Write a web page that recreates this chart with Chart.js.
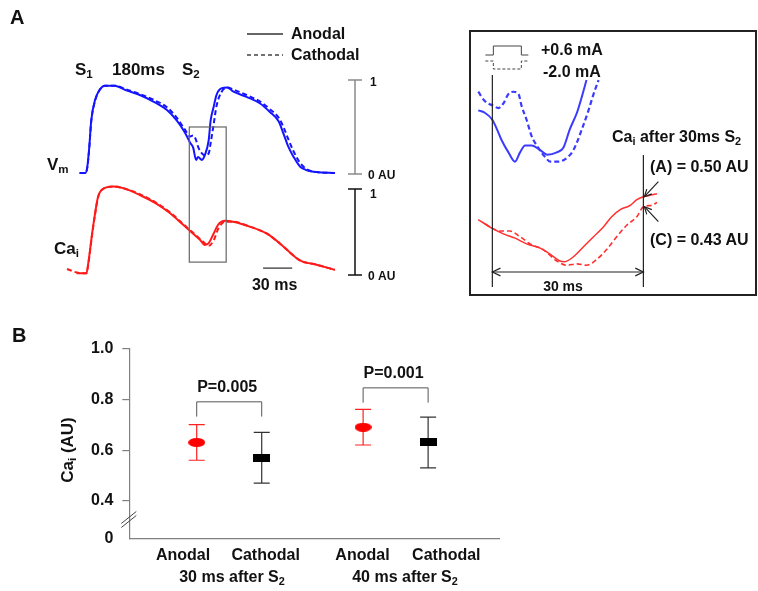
<!DOCTYPE html>
<html>
<head>
<meta charset="utf-8">
<script src="https://cdn.jsdelivr.net/npm/chart.js@4.4.1/dist/chart.umd.min.js"></script>
<style>
  body { margin: 0; background: #fff; }
  #page { position: relative; width: 758px; height: 591px; overflow: hidden; background: #fff; }
  canvas { position: absolute; }
  #insetBox { position: absolute; left: 469px; top: 30px; width: 284px; height: 262px; border: 2px solid #222; }
  #insetBox canvas { left: 0; top: 0; }
  .t { position: absolute; font: bold 16px Arial, "Liberation Sans", sans-serif; color: #111;
       line-height: 1; white-space: nowrap; transform: translateY(-50%); z-index: 2; }
  .c { transform: translate(-50%, -50%); }
  .t sub { font-size: 0.68em; vertical-align: -0.32em; line-height: 0; }
  svg { position: absolute; }
</style>
</head>
<body>
<div id="page">
  <canvas id="traces" width="440" height="305" style="left:0;top:0"></canvas>
  <div id="insetBox"><canvas id="inset" width="284" height="262"></canvas></div>
  <canvas id="summary" width="520" height="271" style="left:0;top:320px"></canvas>

  <!-- panel A labels -->
  <div class="t" style="left:10px;top:17px;font-size:20px">A</div>
  <svg width="40" height="30" style="left:245px;top:28px">
    <line x1="2" y1="6" x2="38" y2="6" stroke="#333" stroke-width="1.4"/>
    <line x1="2" y1="27" x2="38" y2="27" stroke="#444" stroke-width="1.4" stroke-dasharray="4 3"/>
  </svg>
  <div class="t" style="left:291px;top:34px">Anodal</div>
  <div class="t" style="left:291px;top:55px">Cathodal</div>
  <div class="t" style="left:75px;top:69px;font-size:17px">S<sub>1</sub></div>
  <div class="t" style="left:112px;top:69px;font-size:17px">180ms</div>
  <div class="t" style="left:182px;top:69px;font-size:17px">S<sub>2</sub></div>
  <div class="t" style="left:47px;top:164px;font-size:17px">V<sub>m</sub></div>
  <div class="t" style="left:54px;top:248px;font-size:17px">Ca<sub>i</sub></div>

  <!-- inset labels -->
  <div class="t" style="left:541px;top:50px">+0.6 mA</div>
  <div class="t" style="left:543px;top:72px">-2.0 mA</div>
  <div class="t" style="left:612px;top:137px">Ca<sub>i</sub> after 30ms S<sub>2</sub></div>
  <div class="t" style="left:650px;top:167px">(A) = 0.50 AU</div>
  <div class="t" style="left:650px;top:240px">(C) = 0.43 AU</div>
  <div class="t c" style="left:563px;top:286px;font-size:14px">30 ms</div>

  <!-- panel B labels -->
  <div class="t" style="left:12px;top:335px;font-size:20px">B</div>
  <div class="t" style="left:67px;top:450px;font-size:17px;transform:translate(-50%,-50%) rotate(-90deg)">Ca<sub>i</sub> (AU)</div>
  <div class="t c" style="left:232px;top:577px">30 ms after S<sub>2</sub></div>
  <div class="t c" style="left:405px;top:577px">40 ms after S<sub>2</sub></div>
</div>

<script>
// ---- main traces (time in ms, amplitude in AU) ----
const vmTime = [14, 20, 22, 24, 26, 30, 35, 40, 50, 62, 76, 90, 104, 114, 122, 128, 131, 134, 136, 140,
                143, 147, 149, 152, 155, 160, 166, 172, 186, 200, 210, 219, 224, 229, 234, 241, 248, 258, 277];
const vmAnodal = [0.01, 0.01, 0.08, 0.29, 0.57, 0.79, 0.90, 0.94, 0.94, 0.89, 0.84, 0.77, 0.68, 0.57, 0.45,
                  0.33, 0.28, 0.15, 0.18, 0.15, 0.20, 0.36, 0.57, 0.71, 0.84, 0.91, 0.92, 0.88, 0.82, 0.75,
                  0.66, 0.56, 0.43, 0.29, 0.19, 0.08, 0.04, 0.02, 0.01];
const vmCathodal = [0.01, 0.01, 0.07, 0.28, 0.56, 0.78, 0.90, 0.94, 0.94, 0.90, 0.85, 0.79, 0.71, 0.60, 0.48,
                    0.40, 0.41, 0.36, 0.29, 0.22, 0.20, 0.22, 0.33, 0.52, 0.72, 0.87, 0.92, 0.90, 0.84, 0.77,
                    0.69, 0.60, 0.50, 0.37, 0.25, 0.12, 0.05, 0.02, 0.01];

const caTime = [1, 11, 21, 23, 27, 30, 33, 38, 49, 59, 76, 93, 107, 121, 131, 138, 143, 147, 152, 157,
                164, 172, 190, 207, 220, 231, 241, 258, 277];
const caAnodal = [null, 0.02, 0.02, 0.14, 0.49, 0.72, 0.91, 1.00, 1.03, 1.01, 0.93, 0.83, 0.72, 0.58, 0.48,
                  0.41, 0.35, 0.37, 0.48, 0.59, 0.63, 0.62, 0.56, 0.48, 0.37, 0.26, 0.17, 0.12, 0.06];
const caCathodal = [0.07, 0.03, 0.02, 0.13, 0.48, 0.71, 0.90, 1.00, 1.03, 1.01, 0.94, 0.84, 0.73, 0.59, 0.49,
                    0.42, 0.37, 0.34, 0.40, 0.54, 0.62, 0.62, 0.56, 0.48, 0.37, 0.26, 0.17, 0.12, 0.06];

// window around S2 that is enlarged in the inset
const windowStart = 127;
const windowEnd = 165;

// ---- inset (time after S2 in ms) ----
const insetVmTimeA = [-2.8, -1.5, 0, 0.9, 1.9, 3.2, 4.5, 5.5, 6.5, 7.8, 9.5, 10.9, 12.8, 14.1, 15.4, 16.8, 17.8, 18.7];
const insetVmAnodal = [0.37, 0.36, 0.33, 0.29, 0.24, 0.19, 0.15, 0.19, 0.22, 0.22, 0.20, 0.18, 0.19, 0.21, 0.29, 0.36, 0.43, 0.50];
const insetVmTimeC = [-2.8, -1.5, 0.2, 1.2, 2.2, 3.2, 4.2, 5.2, 5.8, 6.8, 7.8, 9.1, 10.5, 11.5, 12.8, 14.4, 16.1, 17.8, 19.1, 20.1, 21.1];
const insetVmCathodal = [0.45, 0.41, 0.39, 0.38, 0.40, 0.44, 0.45, 0.44, 0.39, 0.33, 0.26, 0.21, 0.17, 0.15, 0.15, 0.16, 0.20, 0.29, 0.37, 0.44, 0.50];

const insetCaTimeA = [-2.8, -0.1, 2.2, 4.5, 6.8, 9.5, 11.8, 13.4, 14.4, 16.1, 18.1, 20.1, 22.1, 23.7, 25.4, 27.4, 28.7, 30, 31.3, 32.7];
const insetCaAnodal = [0.34, 0.28, 0.24, 0.21, 0.17, 0.14, 0.09, 0.05, 0.045, 0.08, 0.15, 0.22, 0.29, 0.36, 0.41, 0.44, 0.48, 0.50, 0.51, 0.52];
const insetCaTimeC = [-1.5, 1.5, 3.5, 5.5, 7.5, 10.1, 12.8, 14.8, 16.8, 18.7, 20.7, 22.7, 24.7, 26.7, 28.7, 30, 31.7, 32.7];
const insetCaCathodal = [0.31, 0.26, 0.26, 0.22, 0.17, 0.13, 0.05, 0.02, 0.03, 0.02, 0.06, 0.13, 0.22, 0.30, 0.36, 0.43, 0.44, 0.46];

const readoutTime = 30;
const readoutAnodal = 0.50;
const readoutCathodal = 0.43;

// ---- panel B: Ca_i at 30 and 40 ms after S2 ----
const categories = ['Anodal', 'Cathodal', 'Anodal', 'Cathodal'];
const groups = ['30 ms after S2', '40 ms after S2'];
const anodalMean = [0.63, 0.69];
const anodalSD = [0.07, 0.07];
const cathodalMean = [0.57, 0.63];
const cathodalSD = [0.10, 0.10];
const pLabels = ['P=0.005', 'P=0.001'];
const bracketLevels = [0.79, 0.845];
const yTicks = [0.4, 0.6, 0.8, 1.0];

Chart.defaults.font.family = 'Arial, "Liberation Sans", sans-serif';
Chart.defaults.font.weight = 'bold';
Chart.defaults.color = '#111';

const FONT = 'bold 16px Arial, "Liberation Sans", sans-serif';
const toXY = (xs, ys) => xs.map((x, i) => ({ x: x, y: ys[i] }));

function trace(data, axis, color, width, dashed) {
    return {
        data: data,
        yAxisID: axis,
        borderColor: color,
        borderWidth: width,
        borderDash: dashed ? [5, 3] : [],
        pointRadius: 0,
        fill: false,
        cubicInterpolationMode: 'monotone'
    };
}

function arrowHead(ctx, tipX, tipY, angle, len) {
    ctx.beginPath();
    ctx.moveTo(tipX + len * Math.cos(angle + 0.45), tipY + len * Math.sin(angle + 0.45));
    ctx.lineTo(tipX, tipY);
    ctx.lineTo(tipX + len * Math.cos(angle - 0.45), tipY + len * Math.sin(angle - 0.45));
    ctx.stroke();
}

/**
 * Window box, amplitude scale bars and time scale bar of panel A
 */
const traceDecor = {
    id: 'traceDecor',
    afterDatasetsDraw(chart) {
        const { ctx, chartArea, scales: { x, yVm, yCa } } = chart;
        ctx.save();

        // box around S2
        const bx0 = x.getPixelForValue(windowStart);
        const bx1 = x.getPixelForValue(windowEnd);
        const by0 = yVm.getPixelForValue(0.5);
        const by1 = yCa.getPixelForValue(0.15);
        ctx.strokeStyle = '#666';
        ctx.lineWidth = 1.2;
        ctx.strokeRect(bx0, by0, bx1 - bx0, by1 - by0);

        // 0-1 AU bars
        const bx = chartArea.right;
        ctx.font = 'bold 12px Arial, "Liberation Sans", sans-serif';
        ctx.textBaseline = 'middle';
        [[yVm, '#8a8a8a', 3], [yCa, '#111', 6]].forEach(([s, color, off]) => {
            const top = s.getPixelForValue(1);
            const bot = s.getPixelForValue(0);
            ctx.strokeStyle = color;
            ctx.lineWidth = 1.5;
            ctx.beginPath();
            ctx.moveTo(bx, top); ctx.lineTo(bx, bot);
            ctx.moveTo(bx - 7, top); ctx.lineTo(bx + 7, top);
            ctx.moveTo(bx - 7, bot); ctx.lineTo(bx + 7, bot);
            ctx.stroke();
            ctx.fillStyle = '#111';
            ctx.fillText('1', bx + 15, top + off);
            ctx.fillText('0 AU', bx + 13, bot + 2);
        });

        // 30 ms bar
        const t0 = x.getPixelForValue(203);
        const t1 = x.getPixelForValue(233);
        const ty = yCa.getPixelForValue(0.08);
        ctx.strokeStyle = '#555';
        ctx.lineWidth = 1.5;
        ctx.beginPath();
        ctx.moveTo(t0, ty); ctx.lineTo(t1, ty);
        ctx.stroke();
        ctx.font = FONT;
        ctx.textAlign = 'center';
        ctx.fillText('30 ms', (t0 + t1) / 2 - 3, ty + 17);
        ctx.restore();
    }
};

new Chart(document.getElementById('traces'), {
    type: 'line',
    data: {
        datasets: [
            trace(toXY(vmTime, vmAnodal), 'yVm', '#1414ff', 2, false),
            trace(toXY(vmTime, vmCathodal), 'yVm', '#1414ff', 2, true),
            trace(toXY(caTime, caAnodal), 'yCa', '#ff1a1a', 2, false),
            trace(toXY(caTime, caCathodal), 'yCa', '#ff1a1a', 2, true)
        ]
    },
    options: {
        responsive: false,
        animation: false,
        events: [],
        layout: { padding: { left: 66, right: 85, top: 80, bottom: 25 } },
        plugins: { legend: { display: false }, tooltip: { enabled: false } },
        scales: {
            x: { type: 'linear', min: 0, max: 297.7, display: false },
            yVm: { type: 'linear', min: -1.128, max: 1, display: false },
            yCa: { type: 'linear', min: -0.058, max: 2.267, display: false }
        }
    },
    plugins: [traceDecor]
});

/**
 * Stimulus icons, S2 / 30 ms markers and readout arrows of the inset
 */
const insetDecor = {
    id: 'insetDecor',
    afterDatasetsDraw(chart) {
        const { ctx, scales: { x, yCa } } = chart;
        const x0 = x.getPixelForValue(0);
        const x30 = x.getPixelForValue(readoutTime);
        ctx.save();

        // pulse icons
        ctx.strokeStyle = '#444';
        ctx.lineWidth = 1;
        ctx.beginPath();
        ctx.moveTo(x0 - 7, 23); ctx.lineTo(x0 + 1, 23); ctx.lineTo(x0 + 1, 14);
        ctx.lineTo(x0 + 29, 14); ctx.lineTo(x0 + 29, 23); ctx.lineTo(x0 + 36, 23);
        ctx.stroke();
        ctx.setLineDash([3, 2]);
        ctx.beginPath();
        ctx.moveTo(x0 - 7, 29); ctx.lineTo(x0 + 1, 29); ctx.lineTo(x0 + 1, 37);
        ctx.lineTo(x0 + 29, 37); ctx.lineTo(x0 + 29, 29); ctx.lineTo(x0 + 36, 29);
        ctx.stroke();
        ctx.setLineDash([]);

        // S2 onset and readout lines
        ctx.strokeStyle = '#222';
        ctx.lineWidth = 1.2;
        ctx.beginPath();
        ctx.moveTo(x0, 43); ctx.lineTo(x0, 255);
        ctx.moveTo(x30, 123); ctx.lineTo(x30, 255);
        ctx.moveTo(x0, 240); ctx.lineTo(x30, 240);
        ctx.stroke();
        arrowHead(ctx, x0, 240, 0, 9);
        arrowHead(ctx, x30, 240, Math.PI, 9);

        // arrows to the readout values
        [[readoutAnodal, -15], [readoutCathodal, 15]].forEach(([v, dy]) => {
            const ty = yCa.getPixelForValue(v);
            ctx.beginPath();
            ctx.moveTo(x30 + 15, ty + dy);
            ctx.lineTo(x30 + 1, ty);
            ctx.stroke();
            arrowHead(ctx, x30 + 1, ty, Math.atan2(dy, 14), 8);
        });
        ctx.restore();
    }
};

new Chart(document.getElementById('inset'), {
    type: 'line',
    data: {
        datasets: [
            trace(toXY(insetVmTimeA, insetVmAnodal), 'yVm', '#3b3bff', 2, false),
            trace(toXY(insetVmTimeC, insetVmCathodal), 'yVm', '#3b3bff', 2.2, true),
            trace(toXY(insetCaTimeA, insetCaAnodal), 'yCa', '#ff3030', 1.5, false),
            trace(toXY(insetCaTimeC, insetCaCathodal), 'yCa', '#ff3030', 1.6, true)
        ]
    },
    options: {
        responsive: false,
        animation: false,
        events: [],
        layout: { padding: 0 },
        plugins: { legend: { display: false }, tooltip: { enabled: false } },
        scales: {
            x: { type: 'linear', min: -4.24, max: 52.17, display: false },
            yVm: { type: 'linear', min: -0.417, max: 0.706, display: false },
            yCa: { type: 'linear', min: -0.181, max: 1.653, display: false }
        }
    },
    plugins: [insetDecor]
});

// ---- panel B ----
const groupGap = 2.56;
const xOf = (g, member) => g * groupGap + member;
const labelPos = [-0.21, 1.06, 2.55, 3.84];
const yMin = 0.25;

function markerImage(w, h, color, ellipse) {
    const c = document.createElement('canvas');
    c.width = w; c.height = h;
    const g = c.getContext('2d');
    g.fillStyle = color;
    if (ellipse) {
        g.beginPath();
        g.ellipse(w / 2, h / 2, w / 2, h / 2, 0, 0, Math.PI * 2);
        g.fill();
    } else {
        g.fillRect(0, 0, w, h);
    }
    return c;
}

const errorSets = [
    { mean: anodalMean, sd: anodalSD, member: 0, color: '#ff2020' },
    { mean: cathodalMean, sd: cathodalSD, member: 1, color: '#333' }
];

const summaryDecor = {
    id: 'summaryDecor',
    beforeDatasetsDraw(chart) {
        const { ctx, scales: { x, y } } = chart;
        ctx.save();
        ctx.lineWidth = 1.2;
        errorSets.forEach(set => {
            ctx.strokeStyle = set.color;
            set.mean.forEach((m, g) => {
                const px = x.getPixelForValue(xOf(g, set.member));
                const top = y.getPixelForValue(m + set.sd[g]);
                const bot = y.getPixelForValue(m - set.sd[g]);
                ctx.beginPath();
                ctx.moveTo(px, top); ctx.lineTo(px, bot);
                ctx.moveTo(px - 8, top); ctx.lineTo(px + 8, top);
                ctx.moveTo(px - 8, bot); ctx.lineTo(px + 8, bot);
                ctx.stroke();
            });
        });

        // significance brackets
        ctx.strokeStyle = '#555';
        ctx.lineWidth = 1;
        ctx.font = FONT;
        ctx.fillStyle = '#111';
        ctx.textAlign = 'center';
        ctx.textBaseline = 'middle';
        pLabels.forEach((label, g) => {
            const xa = x.getPixelForValue(xOf(g, 0));
            const xc = x.getPixelForValue(xOf(g, 1));
            const top = y.getPixelForValue(bracketLevels[g]);
            const leg = y.getPixelForValue(bracketLevels[g] - 0.058);
            ctx.beginPath();
            ctx.moveTo(xa, leg); ctx.lineTo(xa, top); ctx.lineTo(xc, top); ctx.lineTo(xc, leg);
            ctx.stroke();
            ctx.fillText(label, (xa + xc) / 2 - 2, top - 14);
        });

        // axis break marks
        const ax = chart.chartArea.left;
        const yb = y.getPixelForValue(0.315);
        ctx.strokeStyle = '#444';
        ctx.beginPath();
        ctx.moveTo(ax - 8, yb + 5); ctx.lineTo(ax + 7, yb - 7);
        ctx.moveTo(ax - 8, yb + 1); ctx.lineTo(ax + 7, yb - 11);
        ctx.stroke();
        ctx.restore();
    }
};

new Chart(document.getElementById('summary'), {
    type: 'scatter',
    data: {
        datasets: [
            {
                label: 'Anodal',
                data: anodalMean.map((m, g) => ({ x: xOf(g, 0), y: m })),
                pointStyle: markerImage(17, 9, '#ff0000', true)
            },
            {
                label: 'Cathodal',
                data: cathodalMean.map((m, g) => ({ x: xOf(g, 1), y: m })),
                pointStyle: markerImage(17, 8, '#000', false)
            }
        ]
    },
    options: {
        responsive: false,
        animation: false,
        events: [],
        layout: { padding: { left: 69.3, right: 20.7, top: 28.5, bottom: 12 } },
        plugins: { legend: { display: false }, tooltip: { enabled: false } },
        scales: {
            x: {
                type: 'linear',
                min: -1.037,
                max: 4.655,
                afterBuildTicks: axis => { axis.ticks = labelPos.map(v => ({ value: v })); },
                afterFit: axis => { axis.height = 40; },
                grid: { display: false, drawTicks: false },
                border: { color: '#808080', width: 1.2 },
                ticks: {
                    autoSkip: false,
                    maxRotation: 0,
                    padding: 7,
                    font: { size: 16, weight: 'bold' },
                    color: '#111',
                    callback: (v, i) => categories[i]
                }
            },
            y: {
                type: 'linear',
                min: yMin,
                max: 1.0,
                afterBuildTicks: axis => { axis.ticks = [yMin].concat(yTicks).map(v => ({ value: v })); },
                afterFit: axis => { axis.width = 60; },
                grid: {
                    drawOnChartArea: false,
                    tickLength: 7,
                    lineWidth: 1.2,
                    color: c => (c.tick && c.tick.value === yMin) ? 'rgba(0,0,0,0)' : '#808080'
                },
                border: { color: '#808080', width: 1.2 },
                ticks: {
                    padding: 9,
                    font: { size: 16, weight: 'bold' },
                    color: '#111',
                    callback: v => v === yMin ? '0' : v.toFixed(1)
                }
            }
        }
    },
    plugins: [summaryDecor]
});
</script>
</body>
</html>
